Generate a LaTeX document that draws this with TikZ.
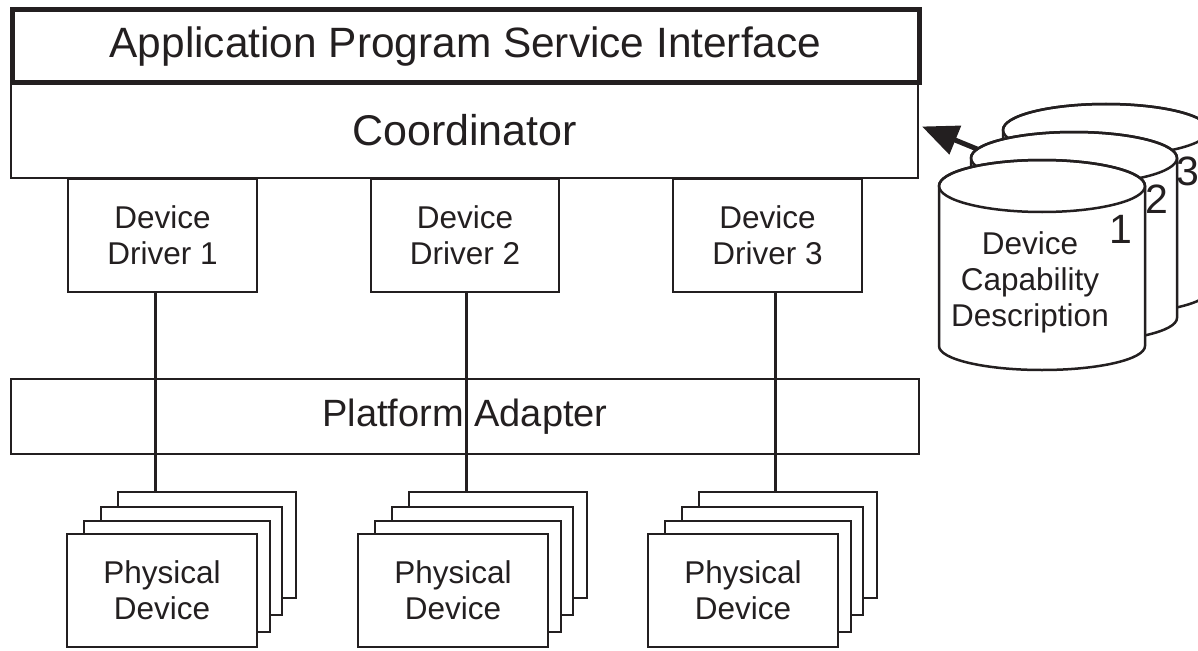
\documentclass[tikz,border=0pt]{standalone}
\usepackage{fontspec}
\setmainfont{Liberation Sans}
\usetikzlibrary{arrows.meta,calc}
\definecolor{ink}{RGB}{35,31,32}

% database cylinder, origin at the centre of the top rim
\tikzset{
  dcyl/.pic={
    \path[draw=ink, fill=white, line width=2.5pt]
      (-103,0) -- (-103,160)
      arc[start angle=180, end angle=0, x radius=103, y radius=24]
      -- (103,0)
      arc[start angle=0, end angle=-180, x radius=103, y radius=26] -- cycle;
    \draw[ink, line width=2.5pt] (0,0) ellipse[x radius=103, y radius=26];
  }
}

\begin{document}
\begin{tikzpicture}[x=1pt, y=-1pt, line join=miter,
  box/.style={draw=ink, line width=2.8pt, fill=white, inner sep=0pt,
              outer sep=0pt, align=center, text=ink},
  big/.style={font=\fontsize{43}{50}\selectfont},
  mid/.style={font=\fontsize{38}{45}\selectfont},
  small/.style={font=\fontsize{31.5}{36}\selectfont},
  digit/.style={font=\fontsize{41}{46}\selectfont, text=ink, inner sep=0pt},
  wire/.style={draw=ink, line width=3pt},
]
\clip (0,0) rectangle (1198,650);

% layered stack
\node[box, big, minimum width=907, minimum height=95] (coord) at (464.5,130.5) {Coordinator};
\node[box, big, line width=5pt, minimum width=907, minimum height=73,
      font=\fontsize{42.4}{50}\selectfont] (api) at (465.5,46.5)
  {Application Program Service Interface};

\node[box, small, minimum width=189, minimum height=113] (d1) at (162.5,235.5) {Device\\Driver 1};
\node[box, small, minimum width=188, minimum height=113] (d2) at (465,235.5) {Device\\Driver 2};
\node[box, small, minimum width=189, minimum height=113] (d3) at (767.5,235.5) {Device\\Driver 3};

\node[box, mid, minimum width=908, minimum height=75] (pa) at (465,416.5) {Platform Adapter};

% physical device stacks and their links to the drivers
\foreach \i/\L/\lx in {1/67/155, 2/358/466, 3/648/775} {
  \coordinate (tap\i) at (\lx,0);
  \node[box, minimum width=178, minimum height=106] (pd\i c) at (\L+140,545) {};
  \draw[wire] (d\i.south -| tap\i) -- (pd\i c.north -| tap\i);
  \node[box, minimum width=181, minimum height=108] (pd\i b) at (\L+124.5,561) {};
  \node[box, minimum width=186, minimum height=111] (pd\i a) at (\L+110,576.5) {};
  \node[box, small, minimum width=190, minimum height=113] (pd\i) at (\L+95,590.5) {Physical\\Device};
}

% device capability descriptions
\pic at (1106,130) {dcyl};
\node[digit] (n3) at (1188,171) {3};
\pic at (1074,158) {dcyl};
\node[digit] (n2) at (1157,199) {2};
\pic at (1042,186) {dcyl};
\node[digit] (n1) at (1121,229) {1};
\node[small, text=ink, align=center] (dcd) at (1030,282) {Device\\Capability\\Description};

% descriptions feed the coordinator
\coordinate (c2rim) at (977,149);
\draw[ink, line width=5pt, -{Triangle[length=36pt, width=30pt]}]
  (c2rim) -- ($(coord.east)+(4,-4)$);
\end{tikzpicture}
\end{document}
